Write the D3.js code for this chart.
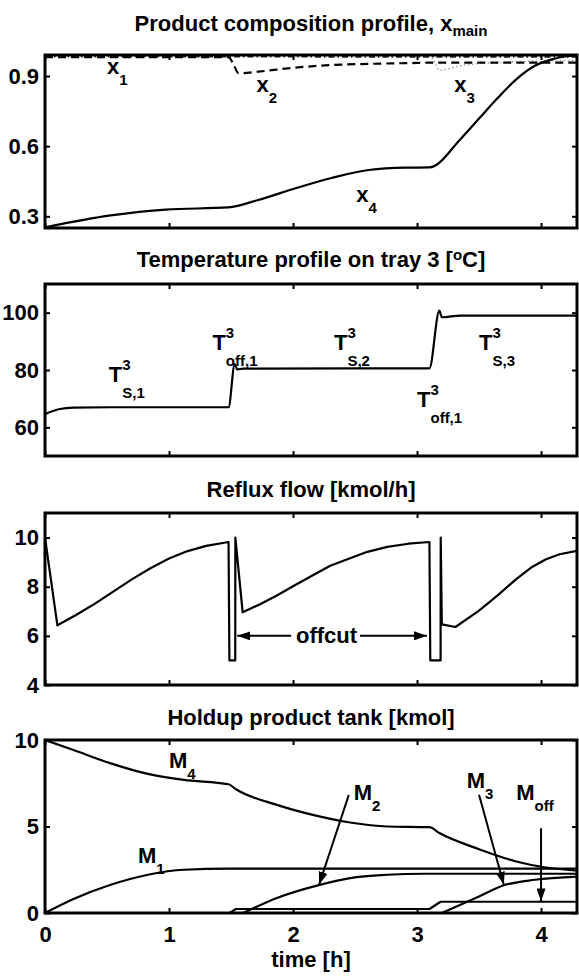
<!DOCTYPE html>
<html lang="en">
<head>
<meta charset="utf-8">
<title>Batch distillation profiles</title>
<style>
  html, body { margin: 0; padding: 0; background: #fff; }
  svg text { font-family: "Liberation Sans", Arial, sans-serif; font-weight: bold; fill: #000; }
  .tick text { font-size: 22px; }
  .tick line { stroke: #000; stroke-width: 2; }
  .title { font-size: 22px; }
  .note { font-size: 22px; }
  .small { font-size: 15px; }
</style>
</head>
<body>
<div id="chart"></div>
<script src="https://d3js.org/d3.v7.min.js"></script>
<script>
// time axis (h), shared by all four panels
var timeTicks = [0, 1, 2, 3, 4];
var timeMax = 4.29;

// panel 1 - product composition x_main
var x1Time = [0, 1.5, 3.1, 4.29];
var x1Vals = [0.983, 0.983, 0.982, 0.982];
var x2Time = [0, 1.48, 1.52, 1.56, 1.72, 2.02, 2.31, 2.61, 3.0, 3.1, 4.29];
var x2Vals = [0.981, 0.981, 0.95, 0.912, 0.919, 0.936, 0.947, 0.952, 0.956, 0.957, 0.957];
var x3Time = [0, 3.1, 3.15, 3.18, 3.35, 3.65, 4.1, 4.29];
var x3Vals = [0.99, 0.99, 0.95, 0.925, 0.944, 0.958, 0.965, 0.966];
var x4Time = [0, 0.53, 0.975, 1.48, 1.72, 2.02, 2.31, 2.61, 2.91, 3.1, 3.35, 3.5, 3.65, 3.8, 3.95, 4.1, 4.29];
var x4Vals = [0.253, 0.304, 0.329, 0.338, 0.37, 0.42, 0.464, 0.498, 0.508, 0.509, 0.63, 0.718, 0.806, 0.886, 0.944, 0.973, 0.99];
var compTicks = [0.3, 0.6, 0.9];

// panel 2 - temperature on tray 3
var tempTime = [0, 0.11, 0.23, 0.53, 1.48, 1.53, 1.55, 1.6, 2.5, 3.1, 3.18, 3.2, 3.35, 4.29];
var tempVals = [64.6, 66.3, 66.9, 67, 67, 82.1, 80.2, 80.5, 80.6, 80.6, 100.7, 98.4, 99, 99];
var tempTicks = [60, 80, 100];

// panel 3 - reflux flow
var refluxTime = [0, 0.1, 0.25, 0.4, 0.55, 0.7, 0.85, 1.0, 1.15, 1.3, 1.48, 1.487, 1.534, 1.535,
                  1.594, 1.73, 1.87, 2.0, 2.16, 2.3, 2.46, 2.6, 2.76, 2.93, 3.1, 3.107, 3.19, 3.191,
                  3.2, 3.31, 3.5, 3.65, 3.8, 3.92, 4.04, 4.15, 4.29];
var refluxVals = [10, 6.43, 6.85, 7.3, 7.8, 8.3, 8.75, 9.15, 9.45, 9.66, 9.82, 5, 5, 10,
                  6.96, 7.28, 7.64, 8.02, 8.47, 8.85, 9.16, 9.42, 9.62, 9.75, 9.82, 5, 5, 10,
                  6.47, 6.36, 7.03, 7.65, 8.31, 8.78, 9.12, 9.32, 9.46];
var refluxTicks = [4, 6, 8, 10];

// panel 4 - holdup in product tanks
var m1Time = [0, 0.23, 0.53, 0.83, 1.12, 1.48, 4.29];
var m1Vals = [0, 0.81, 1.63, 2.21, 2.5, 2.56, 2.56];
var m2Time = [1.6, 1.87, 2.2, 2.46, 2.76, 3.06, 4.29];
var m2Vals = [0, 0.87, 1.6, 2.02, 2.21, 2.27, 2.27];
var m3Time = [3.2, 3.5, 3.7, 3.95, 4.29];
var m3Vals = [0, 0.96, 1.6, 1.92, 2.1];
var m4Time = [0, 0.23, 0.53, 0.83, 1.12, 1.48, 1.54, 1.87, 2.16, 2.46, 2.76, 3.1, 3.18, 3.5, 3.8, 4.04, 4.29];
var m4Vals = [10, 9.42, 8.65, 8.04, 7.69, 7.44, 7.15, 6.25, 5.67, 5.23, 5.0, 4.96, 4.62, 3.69, 2.98, 2.63, 2.45];
var mOffTime = [1.487, 1.54, 3.1, 3.19, 4.29];
var mOffVals = [0, 0.23, 0.23, 0.65, 0.65];
var holdTicks = [0, 5, 10];

var W = 579, H = 977;
var left = 45, right = 577;

var svg = d3.select("#chart").append("svg").attr("width", W).attr("height", H);

var defs = svg.append("defs");
defs.append("marker").attr("id", "head")
    .attr("viewBox", "0 0 13 9").attr("refX", 13).attr("refY", 4.5)
    .attr("markerWidth", 13).attr("markerHeight", 9)
    .attr("markerUnits", "userSpaceOnUse").attr("orient", "auto")
  .append("path").attr("d", "M0,0L13,4.5L0,9Z").attr("fill", "#000");

var x = d3.scaleLinear().domain([0, timeMax]).range([left, right]);

function panel(id, top, bottom, domain, ticks, fmt, showTime) {
    var y = d3.scaleLinear().domain(domain).range([bottom, top]);
    var g = svg.append("g");
    defs.append("clipPath").attr("id", "clip" + id)
      .append("rect").attr("x", left).attr("y", top).attr("width", right - left).attr("height", bottom - top);
    var plot = g.append("g").attr("clip-path", "url(#clip" + id + ")");

    g.append("g").attr("transform", "translate(" + left + ",0)")
        .call(d3.axisLeft(y).tickValues(ticks).tickSizeInner(-5).tickSizeOuter(0).tickPadding(6).tickFormat(fmt));
    g.append("g").attr("transform", "translate(" + right + ",0)")
        .call(d3.axisRight(y).tickValues(ticks).tickSizeInner(-5).tickSizeOuter(0).tickFormat(""));
    g.append("g").attr("transform", "translate(0," + top + ")")
        .call(d3.axisTop(x).tickValues(timeTicks).tickSizeInner(-5).tickSizeOuter(0).tickFormat(""));
    g.append("g").attr("transform", "translate(0," + bottom + ")")
        .call(d3.axisBottom(x).tickValues(timeTicks).tickSizeInner(-5).tickSizeOuter(0).tickPadding(13)
            .tickFormat(showTime ? d3.format("d") : ""));
    g.selectAll(".domain").remove();
    g.selectAll(".tick text").attr("fill", "#000");

    g.append("rect").attr("x", left).attr("y", top).attr("width", right - left).attr("height", bottom - top)
        .attr("fill", "none").attr("stroke", "#000").attr("stroke-width", 3);
    return {y: y, plot: plot, g: g};
}

function series(p, ts, vs, style) {
    var pts = ts.map(function(t, i) { return [t, vs[i]]; });
    var line = d3.line().curve(style.sharp ? d3.curveLinear : d3.curveMonotoneX)
        .x(function(d) { return x(d[0]); }).y(function(d) { return p.y(d[1]); });
    var path = p.plot.append("path").datum(pts).attr("d", line)
        .attr("fill", "none").attr("stroke", style.color || "#000")
        .attr("stroke-width", style.width || 2.2).attr("stroke-linejoin", "round");
    if (style.dash) path.attr("stroke-dasharray", style.dash);
}

// base text with optional sub/superscript stacked at the same x
function note(p, t, v, base, sub, sup) {
    var px = x(t), py = p.y(v);
    var txt = p.g.append("text").attr("class", "note").attr("x", px).attr("y", py).text(base);
    var w = txt.node().getComputedTextLength();
    if (sup) p.g.append("text").attr("class", "small").attr("x", px + w).attr("y", py - 12).text(sup);
    if (sub) p.g.append("text").attr("class", "small").attr("x", px + w).attr("y", py + (sup ? 16 : 11)).text(sub);
}

function arrow(p, t0, v0, t1, v1) {
    p.g.append("line").attr("x1", x(t0)).attr("y1", p.y(v0)).attr("x2", x(t1)).attr("y2", p.y(v1))
        .attr("stroke", "#000").attr("stroke-width", 2).attr("marker-end", "url(#head)");
}

function title(yPos, parts) {
    var t = svg.append("text").attr("class", "title").attr("x", (left + right) / 2).attr("y", yPos)
        .attr("text-anchor", "middle");
    parts.forEach(function(pt) {
        var s = t.append("tspan").text(pt.s);
        if (pt.dy) s.attr("dy", pt.dy);
        if (pt.small) s.attr("font-size", "15px");
    });
}

// ---- panel 1
title(31, [{s: "Product composition profile, x"}, {s: "main", dy: 5, small: true}]);
var p1 = panel(1, 55, 228, [0.25, 0.99], compTicks, d3.format(".1f"), false);
series(p1, x1Time, x1Vals, {dash: "6,3,1.5,3", width: 1.8, color: "#222"});
series(p1, x3Time, x3Vals, {dash: "1.5,2.5", width: 1.3, color: "#999"});
series(p1, x2Time, x2Vals, {dash: "8,5", width: 2.2});
series(p1, x4Time, x4Vals, {width: 2.2});
note(p1, 0.5, 0.909, "x", "1");
note(p1, 1.705, 0.83, "x", "2");
note(p1, 3.3, 0.83, "x", "3");
note(p1, 2.51, 0.3625, "x", "4");

// ---- panel 2
title(267, [{s: "Temperature profile on tray 3 ["}, {s: "o", dy: -7, small: true}, {s: "C]", dy: 7}]);
var p2 = panel(2, 284, 456, [50, 110], tempTicks, d3.format("d"), false);
series(p2, tempTime, tempVals, {width: 2.2});
note(p2, 0.515, 75.9, "T", "S,1", "3");
note(p2, 1.35, 87, "T", "off,1", "3");
note(p2, 2.33, 87, "T", "S,2", "3");
note(p2, 3.0, 67.2, "T", "off,1", "3");
note(p2, 3.5, 87, "T", "S,3", "3");

// ---- panel 3
title(497, [{s: "Reflux flow [kmol/h]"}]);
var p3 = panel(3, 513, 685, [4, 11], refluxTicks, d3.format("d"), false);
series(p3, refluxTime, refluxVals, {width: 2.2, sharp: true});
p3.g.append("text").attr("class", "note").attr("x", x(2.27)).attr("y", p3.y(6) + 7)
    .attr("text-anchor", "middle").text("offcut");
arrow(p3, 1.985, 6, 1.55, 6);
arrow(p3, 2.54, 6, 3.08, 6);

// ---- panel 4
title(725, [{s: "Holdup product tank [kmol]"}]);
var p4 = panel(4, 740, 913, [0, 10], holdTicks, d3.format("d"), true);
series(p4, m1Time, m1Vals, {width: 2.2});
series(p4, m2Time, m2Vals, {width: 2.2});
series(p4, m3Time, m3Vals, {width: 2.2});
series(p4, m4Time, m4Vals, {width: 2.2});
series(p4, mOffTime, mOffVals, {width: 2.2, sharp: true});
note(p4, 1.0, 8.38, "M", "4");
note(p4, 0.75, 2.88, "M", "1");
note(p4, 2.49, 6.54, "M", "2");
note(p4, 3.4, 7.2, "M", "3");
note(p4, 3.8, 6.54, "M", "off");
arrow(p4, 2.45, 6.83, 2.21, 1.63);
arrow(p4, 3.5, 6.83, 3.7, 1.63);
arrow(p4, 4.0, 4.9, 4.0, 0.67);

svg.append("text").attr("class", "title").attr("x", (left + right) / 2).attr("y", 967)
    .attr("text-anchor", "middle").text("time [h]");
</script>
</body>
</html>
